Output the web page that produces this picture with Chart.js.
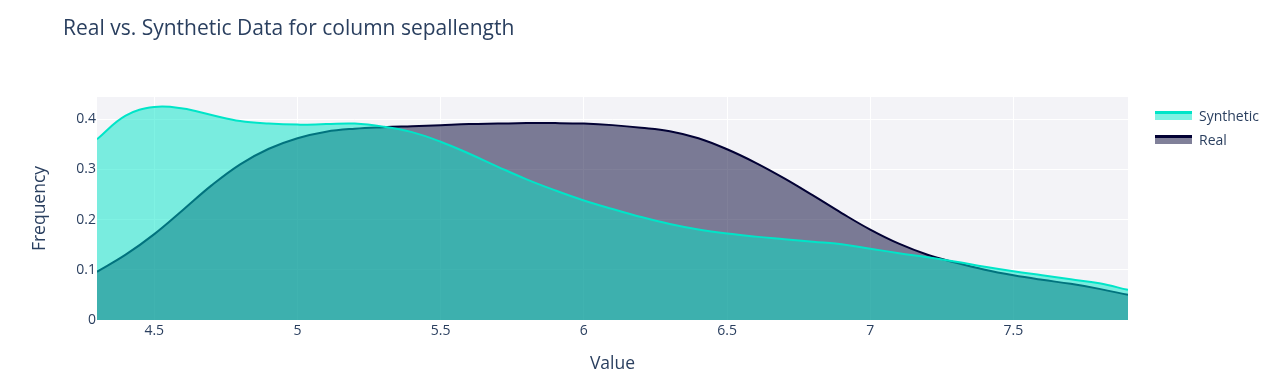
<!DOCTYPE html>
<html>
<head>
<meta charset="utf-8">
<script src="https://cdn.jsdelivr.net/npm/chart.js@4"></script>
<style>
  body { margin: 0; background: #fff; font-family: "Open Sans", sans-serif; }
  #wrap { position: relative; width: 1286px; height: 391px; }
  #title { position: absolute; left: 63px; top: 13px; font-size: 21px; color: #2a3f5f; white-space: nowrap; }
  #legend { position: absolute; left: 1155px; top: 103px; font-size: 14px; color: #2a3f5f; }
  .item { display: flex; align-items: center; height: 24px; }
  .swatch { width: 37px; height: 9px; margin-right: 7px; box-sizing: border-box; border-top: 3px solid; }
</style>
</head>
<body>
<div id="wrap">
  <canvas id="chart" width="1286" height="391"></canvas>
  <div id="title">Real vs. Synthetic Data for column sepallength</div>
  <div id="legend"></div>
</div>
<script>
// values sampled along the x axis (sepal length)
const xValues = [4.3, 4.4, 4.5, 4.6, 4.7, 4.8, 4.9, 5.0, 5.1, 5.2, 5.3, 5.4, 5.5, 5.6, 5.7, 5.8, 5.9,
                 6.0, 6.1, 6.2, 6.3, 6.4, 6.5, 6.6, 6.7, 6.8, 6.9, 7.0, 7.1, 7.2, 7.3, 7.4, 7.5, 7.6, 7.7, 7.8, 7.9];
const synthetic = [0.360, 0.407, 0.424, 0.421, 0.408, 0.396, 0.391, 0.389, 0.390, 0.391, 0.385, 0.374, 0.355,
                   0.331, 0.305, 0.280, 0.258, 0.238, 0.221, 0.205, 0.191, 0.180, 0.172, 0.166, 0.161, 0.156,
                   0.151, 0.142, 0.133, 0.125, 0.116, 0.106, 0.097, 0.089, 0.081, 0.073, 0.060];
const real = [0.096, 0.130, 0.171, 0.219, 0.268, 0.310, 0.341, 0.362, 0.375, 0.381, 0.384, 0.386, 0.388,
              0.390, 0.391, 0.392, 0.392, 0.391, 0.388, 0.383, 0.376, 0.362, 0.340, 0.313, 0.282, 0.248,
              0.213, 0.180, 0.152, 0.130, 0.114, 0.100, 0.089, 0.080, 0.072, 0.062, 0.050];
const xTicks = [4.5, 5, 5.5, 6, 6.5, 7, 7.5];
const yTicks = [0, 0.1, 0.2, 0.3, 0.4];

const textColor = '#2a3f5f';
const font = { family: '"Open Sans", sans-serif', size: 14 };

const series = [
    { label: 'Synthetic', values: synthetic, line: 'rgb(0,229,200)', fill: 'rgba(0,229,200,0.5)' },
    { label: 'Real', values: real, line: 'rgb(2,1,52)', fill: 'rgba(2,1,52,0.5)' },
];

// plot background behind the grid
const plotBg = {
    id: 'plotBg',
    beforeDraw(chart) {
        const { ctx, chartArea: a } = chart;
        ctx.save();
        ctx.fillStyle = '#f3f3f7';
        ctx.fillRect(a.left, a.top, a.right - a.left, a.bottom - a.top);
        ctx.restore();
    }
};

const chart = new Chart(document.getElementById('chart'), {
    type: 'line',
    data: {
        datasets: series.map(s => ({
            label: s.label,
            data: xValues.map((x, i) => ({ x: x, y: s.values[i] })),
            borderColor: s.line,
            backgroundColor: s.fill,
            borderWidth: 2,
            fill: 'origin',
            pointRadius: 0,
            tension: 0.4,
        })),
    },
    options: {
        responsive: false,
        animation: false,
        layout: { padding: { top: 97, right: 158, left: 0, bottom: 0 } },
        plugins: { legend: { display: false }, title: { display: false }, tooltip: { enabled: false } },
        scales: {
            x: {
                type: 'linear',
                min: 4.3,
                max: 7.9,
                afterBuildTicks: s => { s.ticks = xTicks.map(v => ({ value: v })); },
                afterFit: s => { s.height = 71; },
                grid: { color: '#ffffff', lineWidth: 1, drawTicks: false },
                border: { display: false },
                ticks: { color: textColor, font: font, padding: 3, maxRotation: 0,
                         callback: v => String(v) },
                title: { display: true, text: 'Value', color: textColor,
                         font: { family: font.family, size: 17.5 }, padding: { bottom: 16 } },
            },
            y: {
                min: 0,
                max: 0.444,
                afterBuildTicks: s => { s.ticks = yTicks.map(v => ({ value: v })); },
                afterFit: s => { s.width = 97; },
                grid: { color: '#ffffff', lineWidth: 1, drawTicks: false },
                border: { display: false },
                ticks: { color: textColor, font: font, padding: 1, callback: v => String(v) },
                title: { display: true, text: 'Frequency', color: textColor,
                         font: { family: font.family, size: 17.5 }, padding: { top: 30 } },
            },
        },
    },
    plugins: [plotBg],
});

// legend in the style of the reference (line on top of a fill swatch)
const legend = document.getElementById('legend');
series.forEach(s => {
    const item = document.createElement('div');
    item.className = 'item';
    const sw = document.createElement('div');
    sw.className = 'swatch';
    sw.style.borderTopColor = s.line;
    sw.style.background = s.fill;
    const label = document.createElement('span');
    label.textContent = s.label;
    item.appendChild(sw);
    item.appendChild(label);
    legend.appendChild(item);
});
</script>
</body>
</html>
